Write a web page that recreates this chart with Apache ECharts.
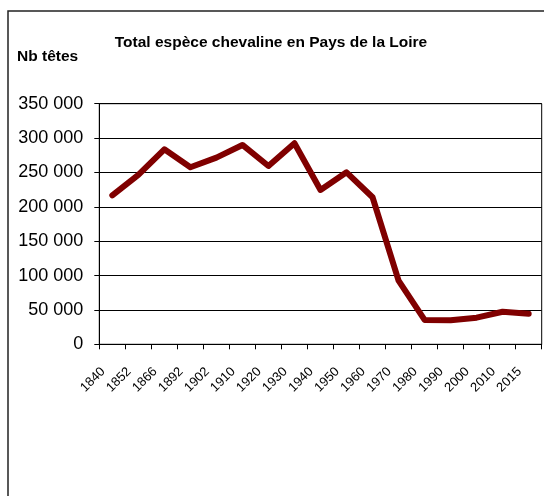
<!DOCTYPE html>
<html>
<head>
<meta charset="utf-8">
<script src="https://cdn.jsdelivr.net/npm/echarts@6/dist/echarts.min.js"></script>
<style>
  html, body { margin: 0; padding: 0; background: #fff; }
  #chart { width: 544px; height: 496px; }
</style>
</head>
<body>
<div id="chart"></div>
<script>
// Census years
const years = ['1840', '1852', '1866', '1892', '1902', '1910', '1920', '1930', '1940',
  '1950', '1960', '1970', '1980', '1990', '2000', '2010', '2015'];

// Number of horses (head count)
const heads = [216700, 246300, 283700, 257500, 271500, 290000, 259400, 292400, 224500,
  250200, 213900, 92500, 35400, 35000, 38700, 47400, 44500];

// Value axis ticks
const yTicks = [0, 50000, 100000, 150000, 200000, 250000, 300000, 350000];

const FONT = '"Liberation Sans", Arial, sans-serif';

function withSpaces(v) {
  return String(v).replace(/\B(?=(\d{3})+(?!\d))/g, ' ');
}

const chart = echarts.init(document.getElementById('chart'), null, { renderer: 'canvas' });

chart.setOption({
  animation: false,
  backgroundColor: '#ffffff',
  textStyle: { fontFamily: FONT },
  graphic: [
    {
      type: 'rect',
      shape: { x: 8, y: 11, width: 600, height: 600 },
      style: { fill: 'none', stroke: '#222', lineWidth: 1.5 },
      silent: true
    },
    {
      type: 'text',
      x: 271, y: 43,
      style: {
        text: 'Total espèce chevaline en Pays de la Loire',
        font: 'bold 15.5px ' + FONT,
        fill: '#000',
        align: 'center',
        verticalAlign: 'middle'
      }
    },
    {
      type: 'text',
      x: 17, y: 57,
      style: {
        text: 'Nb têtes',
        font: 'bold 15.5px ' + FONT,
        fill: '#000',
        align: 'left',
        verticalAlign: 'middle'
      }
    }
  ],
  grid: {
    left: 99.3,
    right: 2.3,
    top: 103.7,
    bottom: 151.7,
    show: true,
    borderColor: '#000',
    borderWidth: 1,
    containLabel: false
  },
  xAxis: {
    type: 'category',
    data: years,
    boundaryGap: true,
    axisLine: { lineStyle: { color: '#000', width: 1 } },
    axisTick: { show: true, interval: 0, length: 5, lineStyle: { color: '#000' } },
    axisLabel: {
      interval: 0,
      rotate: 45,
      margin: 16,
      padding: [0, 13, 0, 0],
      color: '#000',
      fontSize: 13,
      fontFamily: FONT
    },
    splitLine: { show: false }
  },
  yAxis: {
    type: 'value',
    min: yTicks[0],
    max: yTicks[yTicks.length - 1],
    interval: yTicks[1] - yTicks[0],
    axisLine: { show: true, lineStyle: { color: '#000', width: 1 } },
    axisTick: { show: true, length: 5, lineStyle: { color: '#000' } },
    axisLabel: {
      margin: 16,
      color: '#000',
      fontSize: 18,
      fontFamily: FONT,
      formatter: withSpaces
    },
    splitLine: { show: true, lineStyle: { color: '#000', width: 1 } }
  },
  series: [
    {
      type: 'line',
      data: heads,
      showSymbol: false,
      symbol: 'none',
      lineStyle: { color: '#800000', width: 6, join: 'round', cap: 'round' },
      itemStyle: { color: '#800000' }
    }
  ]
});
</script>
</body>
</html>
